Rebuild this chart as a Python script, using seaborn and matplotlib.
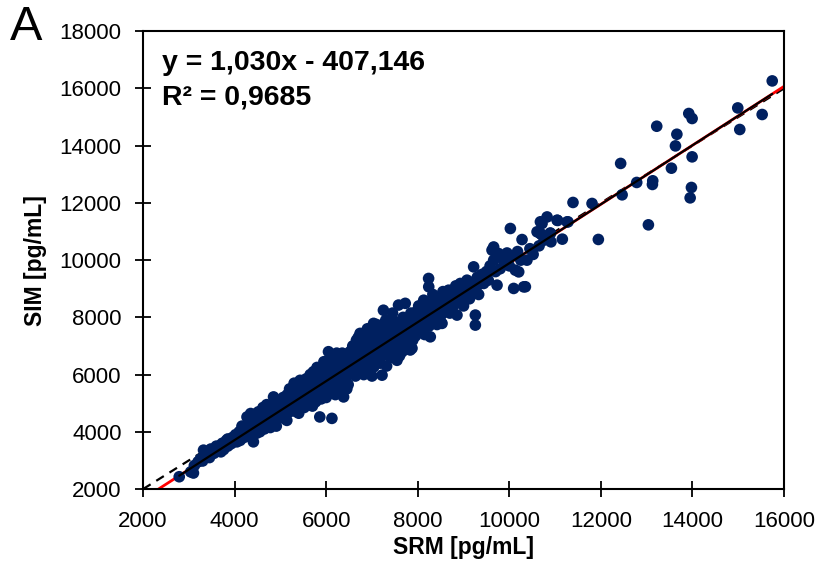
import numpy as np
import pandas as pd
import matplotlib
matplotlib.use("Agg")
import matplotlib.pyplot as plt
import seaborn as sns

# ---- data ----
srm_a = [2790, 3040, 3100, 3120, 3200, 3250, 3300, 3320, 3380, 3420, 3450, 3500, 3550, 3580, 3620, 3650,
         3700, 3730, 3760, 3800, 3820, 3850, 3880, 3900, 3920, 3950, 3980, 4000, 3700, 3600, 3480, 3850]
sim_a = [2430, 2600, 2560, 2820, 2950, 3050, 2980, 3360, 3150, 3280, 3100, 3330, 3250, 3420, 3350, 3500,
         3450, 3600, 3380, 3550, 3700, 3500, 3650, 3720, 3580, 3800, 3650, 3720, 3300, 3500, 3400, 3750]

srm_b = [4020, 4050, 4080, 4100, 4120, 4150, 4180, 4200, 4220, 4250, 4270, 4280, 4300, 4320, 4340, 4350,
         4380, 4400, 4410, 4420, 4450, 4460, 4480, 4490, 4500, 4520, 4540, 4550, 4570, 4600, 4610, 4630,
         4650, 4670, 4680, 4700, 4720, 4740, 4750, 4770, 4780, 4800, 4810, 4830, 4850, 4860, 4880, 4900,
         4910, 4930, 4950, 4960, 4980, 5000, 4520, 4620, 4700, 4400, 4350, 4160]
sim_b = [3900, 3650, 3800, 4000, 3700, 3880, 4050, 3800, 3950, 4150, 4520, 3850, 4050, 4250, 3950, 4100,
         4300, 4000, 3650, 4200, 4400, 4100, 3950, 4650, 4300, 4150, 4500, 4000, 4350, 4600, 4200, 4450,
         4100, 4700, 4350, 4550, 4250, 4800, 4450, 4650, 4150, 4900, 4500, 4750, 5220, 4350, 4950, 4650,
         4200, 5050, 4800, 4500, 5100, 4700, 4700, 4850, 4950, 4500, 4640, 4200]

srm_c = [5020, 5040, 5060, 5080, 5100, 5120, 5140, 5150, 5170, 5190, 5200, 5220, 5240, 5260, 5280, 5300,
         5310, 5330, 5350, 5370, 5390, 5400, 5420, 5430, 5450, 5470, 5490, 5500, 5520, 5540, 5560, 5580,
         5600, 5610, 5630, 5650, 5670, 5680, 5700, 5720, 5740, 5750, 5770, 5790, 5800, 5820, 5840, 5850,
         5860, 5870, 5890, 5900, 5920, 5940, 5950, 5970, 5980, 6000, 6020, 6040, 6050, 6060, 6080, 6100,
         6110, 6125, 6130, 6150, 6170, 6180, 6200, 6220, 6230, 6250, 6270, 6280, 6300, 6320, 6340, 6350,
         6370, 6380, 6400, 6420, 6430, 6450, 6470, 6480, 6500, 6520, 6540, 5560, 5650, 5720, 5800, 5950,
         6100, 6350, 5200, 5300, 5400, 5100, 5700, 6000, 6200, 6450]
sim_c = [4950, 4550, 5200, 4800, 5050, 4650, 4400, 5300, 4900, 5150, 4700, 5450, 5000, 4800, 5250, 4950,
         5550, 5100, 4700, 5350, 5000, 5600, 5200, 5800, 4900, 5400, 5100, 5650, 4850, 5300, 5500, 5050,
         5750, 5350, 5150, 5550, 4950, 5900, 5400, 5200, 5700, 5500, 5050, 5950, 5600, 5300, 6050, 5450,
         4520, 5800, 5150, 6100, 5650, 5400, 6200, 5750, 5250, 5950, 5550, 6400, 6800, 5800, 5350, 6250,
         5650, 4470, 6000, 5450, 6500, 5850, 6150, 5600, 6750, 6000, 5700, 6350, 5900, 6550, 6100, 5400,
         6400, 5220, 6200, 5800, 6650, 6000, 6450, 5650, 6300, 6800, 6050, 5850, 6000, 6100, 6250, 6450,
         6600, 6750, 5500, 5700, 4650, 4450, 4900, 5200, 5300, 5500]

srm_d = [6560, 6580, 6600, 6620, 6640, 6660, 6680, 6700, 6720, 6740, 6750, 6770, 6790, 6800, 6820, 6840,
         6860, 6880, 6900, 6920, 6940, 6950, 6970, 6990, 7000, 7020, 7035, 7040, 7060, 7080, 7100, 7120,
         7140, 7160, 7180, 7200, 7220, 7230, 7250, 7260, 7280, 7300, 7320, 7340, 7360, 7380, 7400, 7420,
         7440, 7460, 7480, 7500, 7520, 7546, 7560, 7580, 7600, 7620, 7640, 7660, 7680, 7700, 7727, 7740,
         7760, 7780, 7800, 7820, 7836, 7850, 7870, 7874, 7890, 7910, 7930, 7950, 7970, 7990, 6900, 7100,
         7300, 7450, 6700, 7000, 7600, 6850, 7400, 7150]
sim_d = [6550, 7000, 6200, 6700, 5950, 7200, 6450, 6850, 6100, 7440, 6600, 7050, 6300, 6900, 6000, 7250,
         6700, 6450, 7100, 6200, 7400, 6850, 6550, 7000, 6350, 7600, 7790, 6270, 6900, 7200, 6600, 7450,
         6800, 7050, 6400, 7300, 5980, 6950, 8250, 7600, 6700, 7150, 6300, 7450, 6950, 7700, 6600, 7250,
         7000, 7900, 6750, 7400, 7150, 6500, 7600, 8430, 7000, 7800, 7300, 6800, 8000, 7500, 8490, 7150,
         7700, 6900, 7950, 7400, 6860, 8150, 7600, 6920, 7200, 8000, 7750, 7350, 8200, 7550, 7600, 7750,
         7900, 8150, 7300, 5950, 6650, 6200, 7750, 7100]

srm_e = [8020, 8050, 8070, 8100, 8130, 8150, 8170, 8200, 8237, 8240, 8250, 8274, 8280, 8300, 8330, 8350,
         8380, 8400, 8420, 8450, 8470, 8500, 8530, 8550, 8570, 8600, 8630, 8660, 8674, 8700, 8720, 8750,
         8780, 8800, 8830, 8857, 8870, 8900, 8929, 8950, 8980, 9000, 9030, 9076, 9100, 9130, 9160, 9200,
         9221, 9240, 9258, 9258, 9280, 9300, 9330, 9360, 9400, 9440, 9470, 9500]
sim_e = [8400, 7600, 8100, 7850, 8600, 7400, 8300, 8000, 9360, 9070, 7700, 7320, 8450, 8150, 8800, 7900,
         8550, 8250, 7750, 8700, 8400, 8050, 7790, 8900, 8550, 8200, 8800, 8450, 8950, 8150, 8650, 8900,
         8400, 8700, 9100, 8080, 8550, 8850, 9185, 8600, 9000, 8400, 8800, 9300, 9000, 8650, 9150, 8900,
         9765, 9250, 7730, 8080, 9050, 9400, 8800, 9250, 9500, 9185, 9350, 9600]

srm_f = [9540, 9580, 9622, 9658, 9658, 9700, 9732, 9767, 9800, 9850, 9900, 9950, 10000, 10023, 10060,
         10095, 10132, 10180, 10205, 10250, 10278, 10314, 10351, 10385, 10450, 10520, 10606, 10650, 10679,
         10679, 10693, 10715, 10825, 10896, 10897, 10910, 10760]
sim_f = [9300, 9800, 10350, 10000, 10460, 9600, 9126, 10230, 9700, 10050, 9850, 10250, 9800, 11106, 10150,
         9011, 9650, 10300, 9590, 10000, 10720, 9066, 9070, 10000, 10400, 10200, 10990, 10500, 10930,
         11340, 10910, 11280, 11510, 10950, 10930, 10640, 10700]

srm_g = [11044, 11055, 11158, 11262, 11282, 11391, 11807, 11945, 12432, 12464, 12783, 13038, 13126, 13133,
         13220, 13541, 13629, 13660, 13920, 13950, 13978, 13993, 13993, 14990, 15034, 15523, 15743]
sim_g = [11396, 11387, 10734, 11337, 11338, 12016, 11981, 10723, 13380, 12283, 12715, 11234, 12645, 12773,
         14680, 13214, 13993, 14400, 15125, 12177, 12540, 14950, 13610, 15320, 14566, 15090, 16264]

# linear trend line reported on the chart: y = 1,030x - 407,146
fit_slope = 1.030
fit_intercept = -407.146
r2_text = "0,9685"
x_ticks = [2000, 4000, 6000, 8000, 10000, 12000, 14000, 16000]
y_ticks = [2000, 4000, 6000, 8000, 10000, 12000, 14000, 16000, 18000]

srm = srm_a + srm_b + srm_c + srm_d + srm_e + srm_f + srm_g
sim = sim_a + sim_b + sim_c + sim_d + sim_e + sim_f + sim_g
df = pd.DataFrame({"SRM": srm, "SIM": sim})

# ---- plotting ----
sns.set_style("white")
plt.rcParams["font.family"] = ["Liberation Sans", "DejaVu Sans"]
plt.rcParams["text.color"] = "black"
plt.rcParams["axes.labelcolor"] = "black"
plt.rcParams["xtick.color"] = "black"
plt.rcParams["ytick.color"] = "black"

fig = plt.figure(figsize=(8.27, 5.68), dpi=100)
ax = fig.add_axes([0.173, 0.139, 0.775, 0.806])

# identity line (dashed, behind the points)
xl = np.array([x_ticks[0], x_ticks[-1]], dtype=float)
ax.plot(xl, xl, color="black", linestyle=(0, (4, 3)), linewidth=1.6, zorder=1)
# linear trend line extended over the whole axis (red, behind the points)
ax.plot(xl, fit_slope * xl + fit_intercept, color="#ff0000", linewidth=2.0, zorder=1.5)

sns.scatterplot(data=df, x="SRM", y="SIM", ax=ax, color="#002060", s=70,
                edgecolor="none", linewidth=0, zorder=2)

# trend line over the data range (black solid, on top)
xr = np.array([df["SRM"].min(), df["SRM"].max()], dtype=float)
ax.plot(xr, fit_slope * xr + fit_intercept, color="black", linewidth=1.6, zorder=4)

ax.set_xlim(x_ticks[0], x_ticks[-1])
ax.set_ylim(y_ticks[0], y_ticks[-1])
ax.set_xticks(x_ticks)
ax.set_yticks(y_ticks)
ax.tick_params(bottom=True, left=True, direction="inout", length=11, width=1.3,
               labelsize=16, colors="black")
ax.tick_params(axis="x", pad=10)
ax.tick_params(axis="y", pad=10)
for sp in ax.spines.values():
    sp.set_color("black")
    sp.set_linewidth(1.5)
    sp.set_zorder(5)

ax.set_xlabel("SRM [pg/mL]", fontsize=16.5, fontweight="bold", labelpad=3)
ax.set_ylabel("SIM [pg/mL]", fontsize=16.5, fontweight="bold", labelpad=9)

ax.text(0.03, 0.93, f"y = {fit_slope:.3f}x - {abs(fit_intercept):.3f}".replace(".", ","),
        transform=ax.transAxes, fontsize=20.5, fontweight="bold", va="center", ha="left")
ax.text(0.03, 0.855, f"R² = {r2_text}", transform=ax.transAxes, fontsize=20.5,
        fontweight="bold", va="center", ha="left")

fig.text(0.012, 0.952, "A", fontsize=35, ha="left", va="center")

fig.savefig("out.png", dpi=100)
